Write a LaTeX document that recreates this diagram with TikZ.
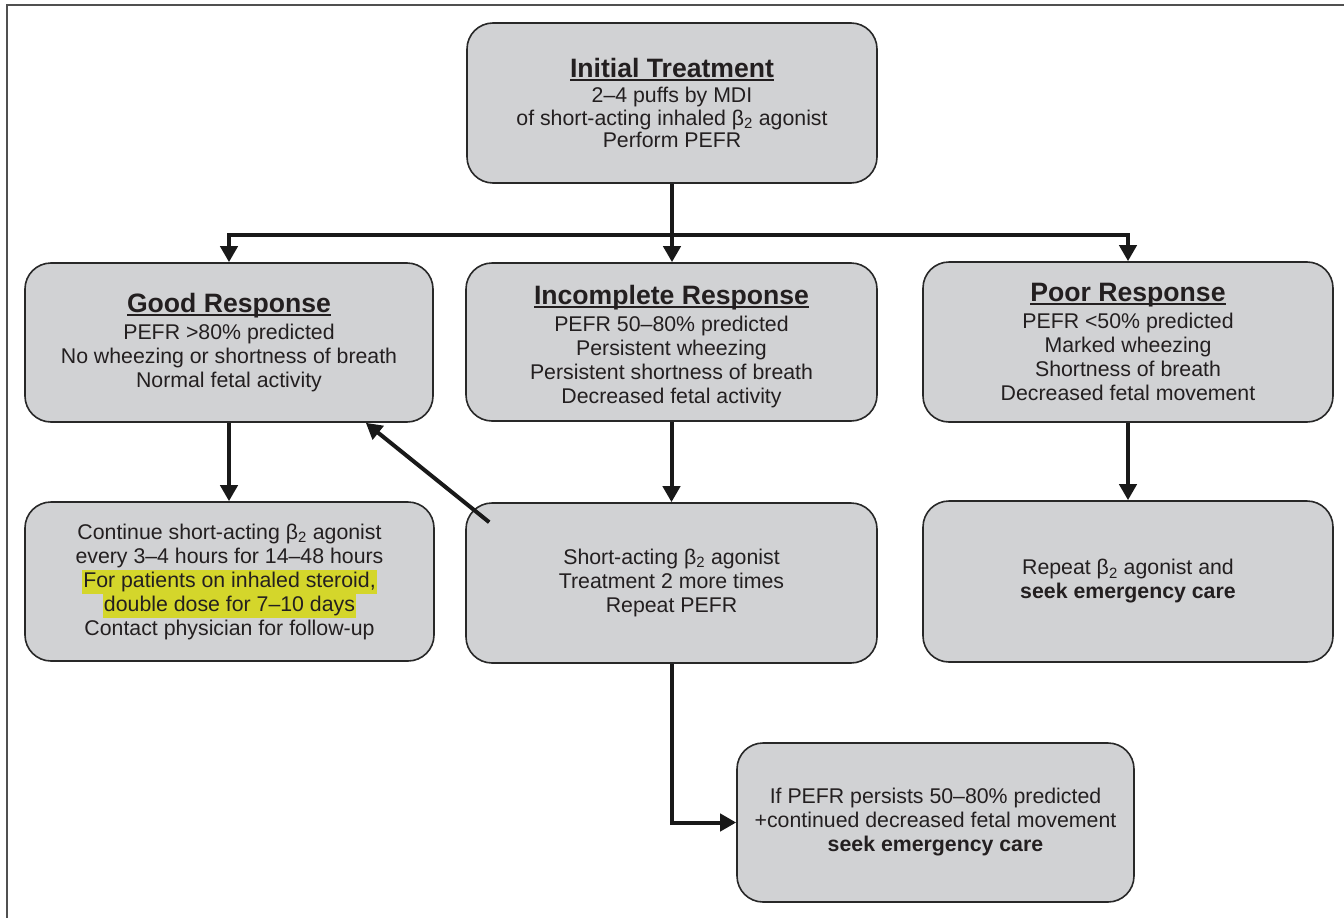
\documentclass[tikz,border=0pt]{standalone}
\usepackage{fontspec}
\setmainfont{Liberation Sans}
\usetikzlibrary{arrows.meta}
\definecolor{boxfill}{RGB}{209,210,212}
\definecolor{boxline}{RGB}{40,40,40}
\definecolor{hlcol}{RGB}{212,214,43}
\definecolor{txt}{RGB}{35,31,32}
\definecolor{framecol}{RGB}{80,80,80}
\newsavebox\ulbox
\newcommand\myul[1]{\sbox\ulbox{#1}\rlap{\usebox\ulbox}\rule[-3.5pt]{\wd\ulbox}{1.8pt}}
\newcommand\ttl[1]{{\fontsize{26.6}{24}\selectfont\bfseries\myul{#1}}\\[3pt]}
\newcommand\hlt[1]{{\setlength\fboxsep{0pt}\colorbox{hlcol}{\strut\kern1pt #1\kern1pt}}}
\newcommand\btwo{β\textsubscript{2}}
\begin{document}
\begin{tikzpicture}[x=1pt,y=-1pt,
  box/.style={draw=boxline, line width=1.6pt, fill=boxfill, rounded corners=26pt,
    align=center, text=txt, inner sep=0pt, font=\fontsize{21.3}{24}\selectfont},
  conn/.style={line width=4pt, draw=black!90, line join=miter},
  tip/.style={-{Triangle[width=17pt,length=16pt]}}]
\useasboundingbox (0,0) rectangle (1344,918);
\draw[framecol, line width=2pt] (7,940) -- (7,5) -- (1360,5);

\node[box, minimum width=410pt, minimum height=160pt, font=\fontsize{21.3}{22.5}\selectfont] (init) at (672,103)
  {\ttl{Initial Treatment}2–4 puffs by MDI\\of short-acting inhaled \btwo{} agonist\\Perform PEFR};
\node[box, minimum width=408pt, minimum height=159pt] (good) at (229,342.5)
  {\ttl{Good Response}PEFR >80\% predicted\\No wheezing or shortness of breath\\Normal fetal activity};
\node[box, minimum width=411pt, minimum height=158pt] (inc) at (671.5,342)
  {\ttl{\rule{0pt}{29pt}Incomplete Response}PEFR 50–80\% predicted\\Persistent wheezing\\Persistent shortness of breath\\Decreased fetal activity};
\node[box, minimum width=410pt, minimum height=160pt] (poor) at (1128,342)
  {\ttl{Poor Response}PEFR <50\% predicted\\Marked wheezing\\Shortness of breath\\Decreased fetal movement};
\node[box, minimum width=409pt, minimum height=159pt] (cont) at (229.5,581.5)
  {Continue short-acting \btwo{} agonist\\every 3–4 hours for 14–48 hours\\\hlt{For patients on inhaled steroid,}\\\hlt{double dose for 7–10 days}\\Contact physician for follow-up};
\node[box, minimum width=411pt, minimum height=160pt] (sa) at (671.5,583)
  {Short-acting \btwo{} agonist\\Treatment 2 more times\\Repeat PEFR};
\node[box, minimum width=410pt, minimum height=161pt] (rep) at (1128,581.5)
  {Repeat \btwo{} agonist and\\\textbf{seek emergency care}};
\node[box, minimum width=397pt, minimum height=159pt] (ifp) at (935.5,822.5)
  {If PEFR persists 50–80\% predicted\\+continued decreased fetal movement\\\textbf{seek emergency care}};

\coordinate (bar) at (0,235);
\draw[conn, {Triangle[width=17pt,length=16pt]}-{Triangle[width=17pt,length=16pt]}]
  (good.north) -- (good.north |- bar) -- (poor.north |- bar) -- (poor.north);
\draw[conn,tip] (init.south) -- (init.south |- inc.north);
\draw[conn,tip] (good.south) -- (good.south |- cont.north);
\draw[conn,tip] (inc.south) -- (inc.south |- sa.north);
\draw[conn,tip] (poor.south) -- (poor.south |- rep.north);
\draw[conn,tip] ([xshift=24pt,yshift=-20pt]sa.north west) -- ([xshift=-68pt]good.south east);
\draw[conn,tip] (sa.south) |- (ifp.west);
\end{tikzpicture}
\end{document}
